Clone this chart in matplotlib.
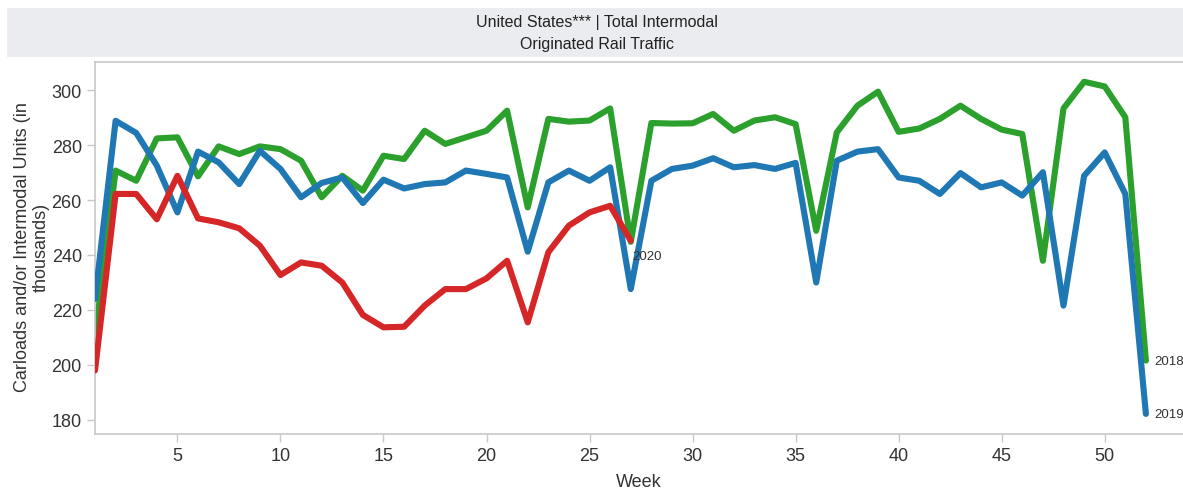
import matplotlib.pyplot as plt
from matplotlib.patches import Rectangle

plt.rcParams['font.family'] = ['Liberation Sans', 'DejaVu Sans']

weeks = list(range(1, 53))

y2018 = [210, 270.7, 267, 282.4, 282.8, 268.6, 279.5, 276.7, 279.5, 278.5,
         274.3, 261, 268.8, 263.4, 276.1, 274.9, 285.2, 280.4, 282.8, 285.2,
         292.5, 257.3, 289.5, 288.5, 288.9, 293.3, 244.8, 288, 287.8, 287.9,
         291.3, 285.2, 288.9, 290.1, 287.6, 248.8, 284.6, 294.3, 299.4, 284.8,
         286, 289.5, 294.3, 289.5, 285.6, 284, 237.9, 293.3, 303, 301.3,
         290.1, 201.6]

y2019 = [224, 288.8, 284.4, 272.5, 255.5, 277.6, 273.7, 265.8, 277.9, 271.3,
         261, 266.2, 268.2, 258.9, 267.4, 264.2, 265.8, 266.4, 270.7, 269.5,
         268.2, 241.2, 266.4, 270.7, 267, 271.9, 227.6, 267, 271.3, 272.5,
         275.2, 271.9, 272.7, 271.3, 273.5, 230, 274.3, 277.6, 278.5, 268.2,
         267, 262.2, 269.8, 264.6, 266.4, 261.6, 270.1, 221.6, 268.8, 277.3,
         262.2, 182.2]

weeks_2020 = list(range(1, 28))
y2020 = [198, 262.2, 262.2, 253, 268.8, 253.3, 251.9, 249.7, 243.4, 232.7,
         237.3, 236.1, 230, 218.2, 213.7, 213.9, 221.6, 227.6, 227.6, 231.5,
         237.9, 215.5, 241, 250.7, 255.5, 257.9, 245.2]

fig = plt.figure(figsize=(11.83, 4.89), dpi=100)
ax = fig.add_axes([95 / 1183, 1 - 435 / 489, 1 - 95 / 1183, (435 - 62.7) / 489])

# header band
fig.patches.append(Rectangle((7 / 1183, 1 - 58 / 489), 1 - 7 / 1183, 49 / 489,
                             transform=fig.transFigure, facecolor='#ebecf0',
                             edgecolor='none', zorder=0))
fig.text(597 / 1183, 1 - 23 / 489, 'United States*** | Total Intermodal',
         ha='center', va='center', fontsize=11.5, color='#222222')
fig.text(597 / 1183, 1 - 44 / 489, 'Originated Rail Traffic',
         ha='center', va='center', fontsize=11.5, color='#222222')

lw = 4.4
style = dict(lw=lw, solid_joinstyle='round', solid_capstyle='round')
ax.plot(weeks, y2018, color='#2ca02c', zorder=2, **style)
ax.plot(weeks, y2019, color='#1f77b4', zorder=3, **style)
ax.plot(weeks_2020, y2020, color='#d62728', zorder=4, **style)

ax.annotate('2018', (weeks[-1], y2018[-1]), xytext=(6, 0), textcoords='offset points',
            ha='left', va='center', fontsize=9.5, color='#333333')
ax.annotate('2019', (weeks[-1], y2019[-1]), xytext=(6, 0), textcoords='offset points',
            ha='left', va='center', fontsize=9.5, color='#333333')
ax.annotate('2020', (weeks_2020[-1], y2020[-1]), xytext=(1, -11), textcoords='offset points',
            ha='left', va='center', fontsize=9.5, color='#333333')

ax.set_xlim(1, 53.8)
ax.set_ylim(174.9, 310.3)
ax.set_xticks([5, 10, 15, 20, 25, 30, 35, 40, 45, 50])
ax.set_yticks([180, 200, 220, 240, 260, 280, 300])

for side in ['left', 'bottom', 'top']:
    ax.spines[side].set_color('#c8c8c8')
    ax.spines[side].set_linewidth(1.2)
ax.spines['right'].set_visible(False)
ax.tick_params(colors='#c8c8c8', labelcolor='#333333', labelsize=13, length=6, width=1)

ax.set_xlabel('Week', fontsize=13, color='#333333', labelpad=6)
ax.set_ylabel('Carloads and/or Intermodal Units (in\nthousands)', fontsize=13,
              color='#333333', ha='center', va='center')
ax.yaxis.set_label_coords(-0.058, 0.505)

fig.savefig('out.png', dpi=100)
